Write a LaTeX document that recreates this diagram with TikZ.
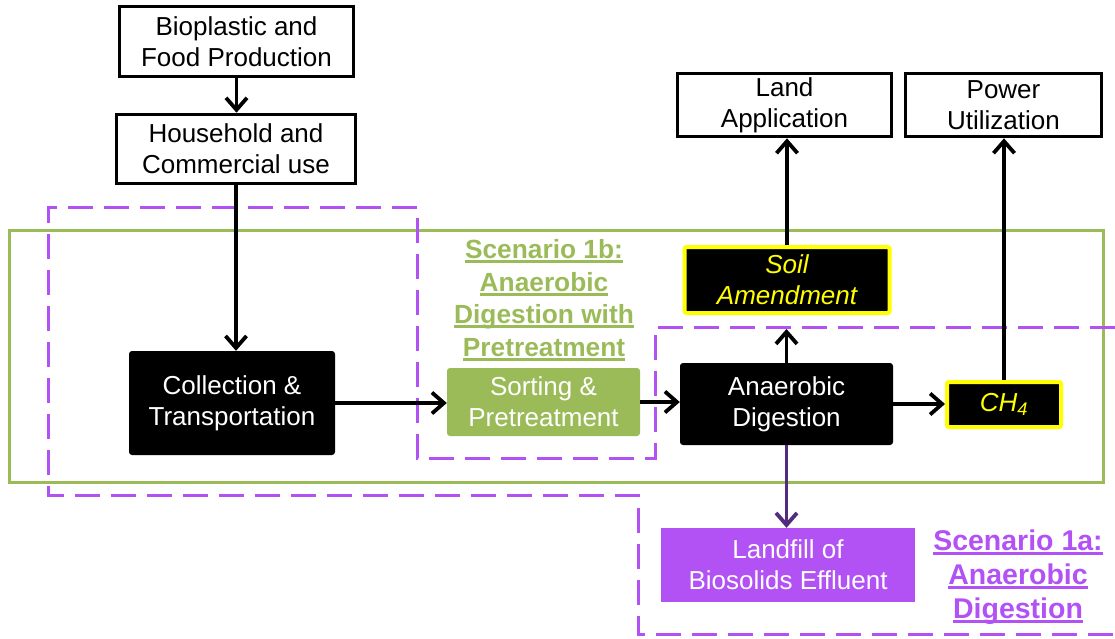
\documentclass[tikz,border=0pt]{standalone}
\usepackage{fontspec}
\setmainfont{Liberation Sans}
\usetikzlibrary{arrows.meta}
\definecolor{scgreen}{RGB}{155,187,89}
\definecolor{scpurple}{RGB}{178,82,245}
\definecolor{arrpurple}{RGB}{82,45,125}
\definecolor{hiyellow}{RGB}{255,255,0}
% heavy underline in the current text colour
\newcommand\thickul[1]{\setbox0\hbox{#1}\rlap{\rule[-4.5pt]{\wd0}{2.6pt}}\box0}

\begin{document}
\begin{tikzpicture}[x=1pt,y=-1pt,
  every node/.style={font=\fontsize{26}{31}\selectfont, align=center, inner sep=0pt},
  whitebox/.style={draw=black, line width=3.6pt, fill=white},
  blackbox/.style={fill=black, text=white, rounded corners=3pt},
  yellowbox/.style={draw=hiyellow, line width=4pt, fill=black, text=hiyellow,
    font=\fontsize{26}{31}\selectfont\itshape, rounded corners=2pt},
  greenbox/.style={fill=scgreen, text=white, rounded corners=3pt},
  purplebox/.style={fill=scpurple, text=white},
  label/.style={font=\fontsize{26.3}{32.5}\selectfont\bfseries},
  biglabel/.style={font=\fontsize{28.5}{34}\selectfont\bfseries},
  flow/.style={line width=3.8pt, line join=round, -{Straight Barb[length=12pt,width=21pt]}},
  zone/.style={scgreen, line width=3pt},
  scenario/.style={scpurple, line width=3pt, dash pattern=on 25pt off 11pt}
]
\useasboundingbox (0,0) rectangle (1115,638);

% scenario outlines
\draw[zone] (9,230) rectangle (1103,482);
\draw[scenario] (1115,327) -- (655,327) -- (655,458) -- (417,458) -- (417,207)
  -- (48,207) -- (48,495) -- (638,495) -- (638,634) -- (1115,634);

% process boxes
\node[whitebox, minimum width=234, minimum height=70] (bio) at (236.5,41.5)
  {Bioplastic and\\Food Production};
\node[whitebox, minimum width=239, minimum height=69] (house) at (236,149)
  {Household and\\Commercial use};
\node[blackbox, minimum width=206, minimum height=104] (coll) at (232,403)
  {Collection \&\\Transportation};
\node[greenbox, minimum width=193, minimum height=68] (sort) at (543.5,402)
  {Sorting \&\\Pretreatment};
\node[blackbox, minimum width=213, minimum height=82] (ad) at (786.5,404)
  {Anaerobic\\Digestion};
\node[yellowbox, minimum width=114, minimum height=45] (ch4) at (1004,404.5)
  {CH\textsubscript{4}};
\node[yellowbox, minimum width=205, minimum height=66] (soil) at (787,280)
  {Soil\\Amendment};
\node[whitebox, minimum width=214, minimum height=63] (land) at (784.5,105)
  {Land\\Application};
\node[whitebox, minimum width=196, minimum height=63] (power) at (1003.5,105)
  {Power\\Utilization};
\node[purplebox, minimum width=254, minimum height=74] (landfill) at (788,565)
  {Landfill of\\Biosolids Effluent};

% scenario captions
\node[label, text=scgreen] (sc1b) at (544,300)
  {\thickul{Scenario 1b:}\\\thickul{Anaerobic}\\\thickul{Digestion with}\\\thickul{Pretreatment}};
\node[biglabel, text=scpurple] (sc1a) at (1018,577)
  {\thickul{Scenario 1a:}\\\thickul{Anaerobic}\\\thickul{Digestion}};

% connectors
\coordinate (amendtip) at (786,329);
\draw[flow] (bio.south) -- (bio.south |- house.north);
\draw[flow] (house.south) -- (house.south |- coll.north);
\draw[flow] (coll.east) -- (coll.east -| sort.west);
\draw[flow] (sort.east) -- (sort.east -| ad.west);
\draw[flow] (ad.east) -- (ad.east -| ch4.west);
\draw[flow] (ch4.north) -- (ch4.north |- power.south);
\draw[flow] (soil.north) -- (soil.north |- land.south);
\draw[flow] (ad.north) -- (ad.north |- amendtip);
\draw[flow, arrpurple] (ad.south) -- (ad.south |- landfill.north);
\end{tikzpicture}
\end{document}
